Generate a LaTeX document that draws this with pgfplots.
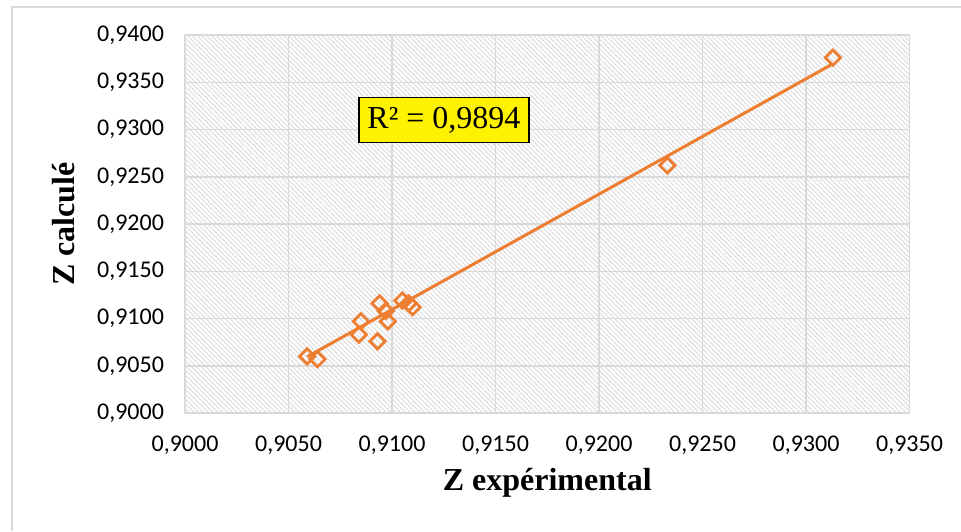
\documentclass[border=0pt]{standalone}
\usepackage{fontspec}
\setmainfont{Liberation Serif}
\newfontfamily\calibri{Carlito}
\usepackage{pgfplots}
\usepackage{pgfplotstable}
\pgfplotsset{compat=1.18}
\usetikzlibrary{patterns.meta}
\definecolor{exorange}{HTML}{ED7D31}
\definecolor{gridgray}{HTML}{D9D9D9}
\definecolor{hatchgray}{HTML}{E0E0E0}

\pgfplotstableread{
x y
0.9059 0.9060
0.9064 0.9057
0.9084 0.9083
0.9085 0.9097
0.9093 0.9076
0.9094 0.9116
0.9097 0.9108
0.9098 0.9097
0.9105 0.9119
0.9108 0.9116
0.9110 0.9112
0.9233 0.9262
0.9313 0.9376
}\data

\pgfplotstableread{
x y
0.9059 0.90595
0.9313 0.93695
}\trend

\begin{document}
\begin{tikzpicture}
\useasboundingbox (0,0) rectangle (480.5pt,-265.5pt);
\draw[gridgray, line width=0.6pt] (6pt,-265.5pt) -- (6pt,-3.5pt) -- (480.5pt,-3.5pt);
\begin{axis}[
  at={(92.5pt,-17.5pt)}, anchor=north west,
  scale only axis, width=362.25pt, height=189pt,
  xmin=0.9, xmax=0.935, ymin=0.9, ymax=0.94,
  xtick={0.9,0.905,0.91,0.915,0.92,0.925,0.93,0.935},
  ytick={0.9,0.905,0.91,0.915,0.92,0.925,0.93,0.935,0.94},
  major tick length=0pt,
  grid=major,
  major grid style={gridgray, line width=0.75pt},
  axis line style={gridgray, line width=0.75pt},
  axis background/.style={pattern={Lines[angle=-45,distance=1.7pt,line width=0.6pt]}, pattern color=hatchgray},
  scaled ticks=false,
  /pgf/number format/.cd, fixed, fixed zerofill, precision=4, use comma, assume math mode=true,
  /pgfplots/.cd,
  ticklabel style={font=\calibri\fontsize{12}{14}\selectfont, text=black},
  xticklabel style={yshift=-8pt},
  yticklabel style={xshift=-7pt},
  xlabel={Z expérimental},
  ylabel={Z calculé},
  xlabel style={font=\bfseries\fontsize{16}{19}\selectfont, at={(axis description cs:0.5,-0.185)}, anchor=center},
  ylabel style={font=\bfseries\fontsize{16}{19}\selectfont, at={(axis description cs:-0.167,0.5)}, anchor=center, rotate=0},
  clip=false,
]
\addplot[only marks, mark=square, mark size=2.7pt,
  mark options={rotate=45, draw=exorange, line width=1.4pt, fill=none}] table {\data};
\addplot[exorange, line width=1.5pt, no markers] table {\trend};
\node[fill=yellow, draw=black, line width=0.8pt, minimum width=85pt, minimum height=22.5pt, inner sep=0pt,
  font=\fontsize{16}{19}\selectfont] at (axis cs:0.91251,0.9310) {R² = 0,9894};
\end{axis}
\end{tikzpicture}
\end{document}
